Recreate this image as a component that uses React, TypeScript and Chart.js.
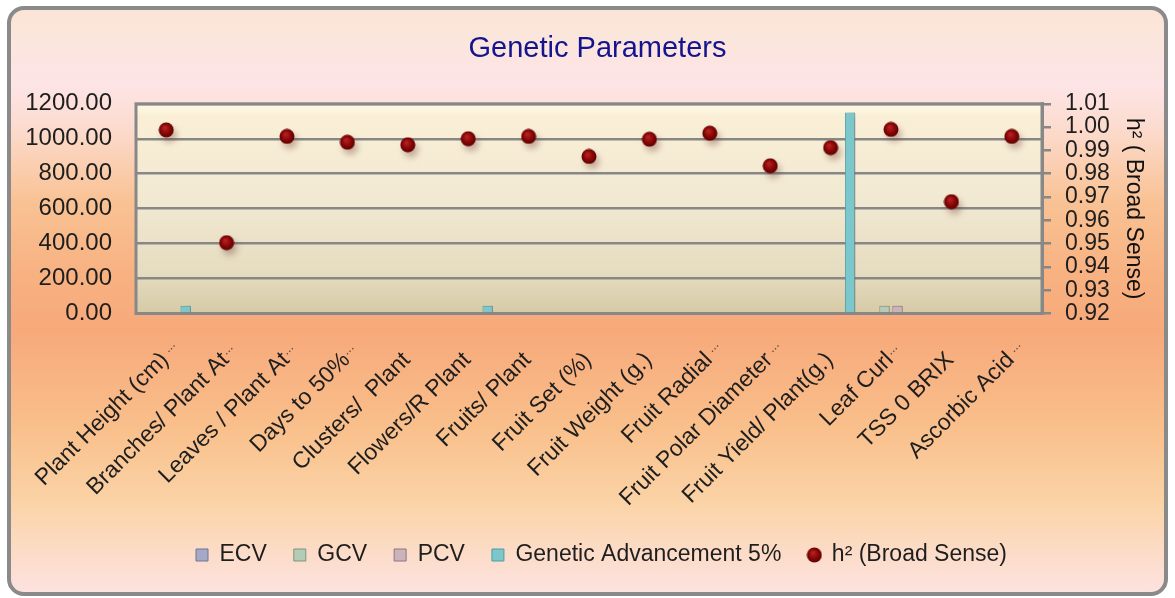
import React, { useEffect, useRef } from 'react';
import { Chart, registerables } from 'chart.js';

Chart.register(...registerables);

const categories = [
  'Plant Height (cm) ...',
  'Branches/ Plant At...',
  'Leaves / Plant At...',
  'Days to 50%...',
  'Clusters/  Plant',
  'Flowers/R Plant',
  'Fruits/ Plant',
  'Fruit Set (%)',
  'Fruit Weight (g.)',
  'Fruit Radial ...',
  'Fruit Polar Diameter ...',
  'Fruit Yield/ Plant(g.)',
  'Leaf Curl...',
  'TSS 0 BRIX',
  'Ascorbic Acid ...',
];

const ecvValues = [0, 0, 0, 0, 0, 0, 0, 0, 0, 0, 0, 0, 0, 0, 0];
const gcvValues = [0, 0, 0, 0, 0, 0, 0, 0, 0, 0, 0, 0, 45, 0, 0];
const pcvValues = [0, 0, 0, 0, 0, 0, 0, 0, 0, 0, 0, 0, 45, 0, 0];
const gaValues = [45, 0, 0, 0, 0, 45, 0, 0, 0, 0, 0, 1150, 0, 0, 0];
const h2Values = [
  0.9988, 0.9504, 0.996, 0.9935, 0.9924, 0.995, 0.996, 0.9874, 0.9948, 0.9974,
  0.9834, 0.9912, 0.999, 0.968, 0.996,
];

const leftAxis = { min: 0, max: 1200, step: 200 };
const rightAxis = { min: 0.92, max: 1.01, step: 0.01 };

const FONT = "'Liberation Sans', Arial, sans-serif";

function makeDot(size: number): HTMLCanvasElement {
  const c = document.createElement('canvas');
  c.width = size;
  c.height = size;
  const g = c.getContext('2d')!;
  const r = size / 2;
  const grad = g.createRadialGradient(r * 0.8, r * 0.7, 0.5, r, r, r);
  grad.addColorStop(0, '#b82222');
  grad.addColorStop(0.55, '#8a0707');
  grad.addColorStop(1, '#560000');
  g.fillStyle = grad;
  g.beginPath();
  g.arc(r, r, r - 0.5, 0, Math.PI * 2);
  g.fill();
  return c;
}

const backgroundPlugin = {
  id: 'bgPlugin',
  beforeDraw(chart: any) {
    const { ctx, width, height, chartArea } = chart;
    ctx.save();
    ctx.fillStyle = '#ffffff';
    ctx.fillRect(0, 0, width, height);
    const x0 = 9, y0 = 8, w = width - 18, h = height - 12, rad = 15;
    const grad = ctx.createLinearGradient(0, y0, 0, y0 + h);
    grad.addColorStop(0, '#fbe4d6');
    grad.addColorStop(0.05, '#fbe6dc');
    grad.addColorStop(0.13, '#fde4e6');
    grad.addColorStop(0.2, '#fcdcd0');
    grad.addColorStop(0.33, '#f9c294');
    grad.addColorStop(0.45, '#f8b282');
    grad.addColorStop(0.55, '#f7a97a');
    grad.addColorStop(0.72, '#f9c08c');
    grad.addColorStop(0.85, '#fbd4a8');
    grad.addColorStop(0.93, '#fcdcc8');
    grad.addColorStop(1, '#fde2e0');
    ctx.beginPath();
    ctx.roundRect(x0, y0, w, h, rad);
    ctx.fillStyle = grad;
    ctx.fill();
    ctx.lineWidth = 4;
    ctx.strokeStyle = '#8a8a8a';
    ctx.stroke();

    const { left, top, right, bottom } = chartArea;
    const pg = ctx.createLinearGradient(0, top, 0, bottom);
    pg.addColorStop(0, '#fffbe6');
    pg.addColorStop(0.06, '#faefd6');
    pg.addColorStop(0.45, '#f2e9d3');
    pg.addColorStop(0.8, '#e6dcc0');
    pg.addColorStop(1, '#d6caa6');
    ctx.fillStyle = pg;
    ctx.fillRect(left, top, right - left, bottom - top);
    ctx.restore();
  },
  beforeDatasetsDraw(chart: any) {
    const { ctx, chartArea } = chart;
    const { left, top, right, bottom } = chartArea;
    ctx.save();
    ctx.strokeStyle = '#888888';
    ctx.lineWidth = 3;
    ctx.strokeRect(left, top, right - left, bottom - top);
    ctx.restore();
  },
  beforeDatasetDraw(chart: any, args: any) {
    const ctx = chart.ctx;
    ctx.save();
    if (args.meta.type === 'bar') {
      ctx.shadowColor = 'rgba(110,60,50,0.45)';
      ctx.shadowBlur = 6;
      ctx.shadowOffsetX = 7;
      ctx.shadowOffsetY = 2;
    } else {
      ctx.shadowColor = 'rgba(100,50,40,0.35)';
      ctx.shadowBlur = 6;
      ctx.shadowOffsetX = 3;
      ctx.shadowOffsetY = 5;
    }
  },
  afterDatasetDraw(chart: any) {
    chart.ctx.restore();
  },
  afterLayout(chart: any) {
    if (chart.legend) {
      chart.legend.left += 14;
      chart.legend.right += 14;
    }
    if (chart.titleBlock) {
      chart.titleBlock.left += 10;
      chart.titleBlock.right += 10;
    }
  },
  afterDraw(chart: any) {
    // category labels, rotated 45°, text anchored at its end; ellipsis hangs past the anchor
    const { ctx } = chart;
    const xs = chart.scales.x;
    ctx.save();
    ctx.fillStyle = '#1e1e1e';
    ctx.textBaseline = 'middle';
    (chart.data.labels as string[]).forEach((lab, i) => {
      const px = xs.getPixelForValue(i);
      const m = lab.match(/^(.*?)(\s*\.\.\.)$/);
      const main = m ? m[1] : lab;
      const suffix = m ? m[2] : '';
      ctx.save();
      ctx.translate(px - 1, xs.top + 43);
      ctx.rotate(-Math.PI / 4);
      ctx.textAlign = 'right';
      ctx.font = `23px ${FONT}`;
      ctx.fillStyle = '#1e1e1e';
      ctx.fillText(main, 0, 0);
      if (suffix) {
        ctx.textAlign = 'left';
        ctx.font = `13px ${FONT}`;
        ctx.fillStyle = '#5a4a40';
        ctx.fillText(suffix, 1, -4);
      }
      ctx.restore();
    });
    ctx.restore();
  },
};

export default function App() {
  const ref = useRef<HTMLCanvasElement | null>(null);

  useEffect(() => {
    document.body.style.margin = '0';
    document.body.style.overflow = 'hidden';
    const canvas = ref.current;
    if (!canvas) return;
    const dot = makeDot(16);

    const chart = new Chart(canvas, {
      type: 'bar',
      data: {
        labels: categories,
        datasets: [
          {
            label: 'ECV',
            data: ecvValues,
            backgroundColor: '#a4a9c6',
            borderColor: '#6f7494',
            borderWidth: 1,
            yAxisID: 'y',
            pointStyle: 'rect',
            order: 2,
          },
          {
            label: 'GCV',
            data: gcvValues,
            backgroundColor: '#b4cbb6',
            borderColor: '#7d9580',
            borderWidth: 1,
            yAxisID: 'y',
            pointStyle: 'rect',
            order: 2,
          },
          {
            label: 'PCV',
            data: pcvValues,
            backgroundColor: '#cbb3bb',
            borderColor: '#8e7680',
            borderWidth: 1,
            yAxisID: 'y',
            pointStyle: 'rect',
            order: 2,
          },
          {
            label: 'Genetic Advancement 5%',
            data: gaValues,
            backgroundColor: '#7cc7cb',
            borderColor: '#4f9da2',
            borderWidth: 1,
            yAxisID: 'y',
            pointStyle: 'rect',
            order: 2,
          },
          {
            type: 'line',
            label: 'h² (Broad Sense)',
            data: h2Values,
            yAxisID: 'y1',
            showLine: false,
            pointStyle: dot as any,
            pointRadius: 8,
            pointHoverRadius: 8,
            backgroundColor: '#8a0707',
            borderColor: '#560000',
            order: 1,
          } as any,
        ],
      },
      options: {
        responsive: false,
        animation: false,
        devicePixelRatio: 1,
        layout: { padding: { left: 0, right: 0, top: 0, bottom: 21.5 } },
        datasets: {
          bar: { categoryPercentage: 0.86, barPercentage: 0.8 },
        },
        plugins: {
          tooltip: { enabled: false },
          title: {
            display: true,
            text: 'Genetic Parameters',
            color: '#14148f',
            font: { family: FONT, size: 29, weight: 'normal' },
            padding: { top: 32, bottom: 37 },
          },
          legend: {
            display: true,
            position: 'bottom',
            labels: {
              usePointStyle: true,
              boxWidth: 12,
              boxHeight: 12,
              padding: 27,
              color: '#1e1e1e',
              font: { family: FONT, size: 23 },
              sort: (a: any, b: any) => a.datasetIndex - b.datasetIndex,
            },
          },
        },
        scales: {
          x: {
            grid: { display: false, drawTicks: false },
            border: { display: false },
            ticks: { display: false },
            afterFit(s: any) {
              s.height = 203;
              s.paddingLeft = 0;
              s.paddingRight = 0;
            },
          },
          y: {
            position: 'left',
            min: leftAxis.min,
            max: leftAxis.max,
            ticks: {
              stepSize: leftAxis.step,
              autoSkip: false,
              padding: 24,
              color: '#1e1e1e',
              font: { family: FONT, size: 24 },
              callback: (v: any) => Number(v).toFixed(2),
            },
            grid: { color: '#878787', lineWidth: 2.5, drawTicks: false },
            border: { display: false },
            afterFit(s: any) {
              s.width = 136;
            },
          },
          y1: {
            position: 'right',
            min: rightAxis.min,
            max: rightAxis.max,
            ticks: {
              stepSize: rightAxis.step,
              autoSkip: false,
              padding: 14,
              color: '#1e1e1e',
              font: { family: FONT, size: 23 },
              callback: (v: any) => Number(v).toFixed(2),
            },
            grid: {
              drawOnChartArea: false,
              drawTicks: true,
              tickLength: 9,
              color: '#878787',
              lineWidth: 2.5,
            },
            border: { display: true, color: '#878787', width: 3 },
            title: {
              display: true,
              text: 'h² ( Broad Sense)',
              color: '#111111',
              font: { family: FONT, size: 23 },
              padding: { top: 28, bottom: 0 },
            },
            afterFit(s: any) {
              s.width = 133;
            },
          },
        },
      },
      plugins: [backgroundPlugin],
    } as any);

    return () => {
      chart.destroy();
    };
  }, []);

  return (
    <canvas
      ref={ref}
      width={1175}
      height={598}
      style={{ display: 'block', width: '1175px', height: '598px' }}
    />
  );
}
